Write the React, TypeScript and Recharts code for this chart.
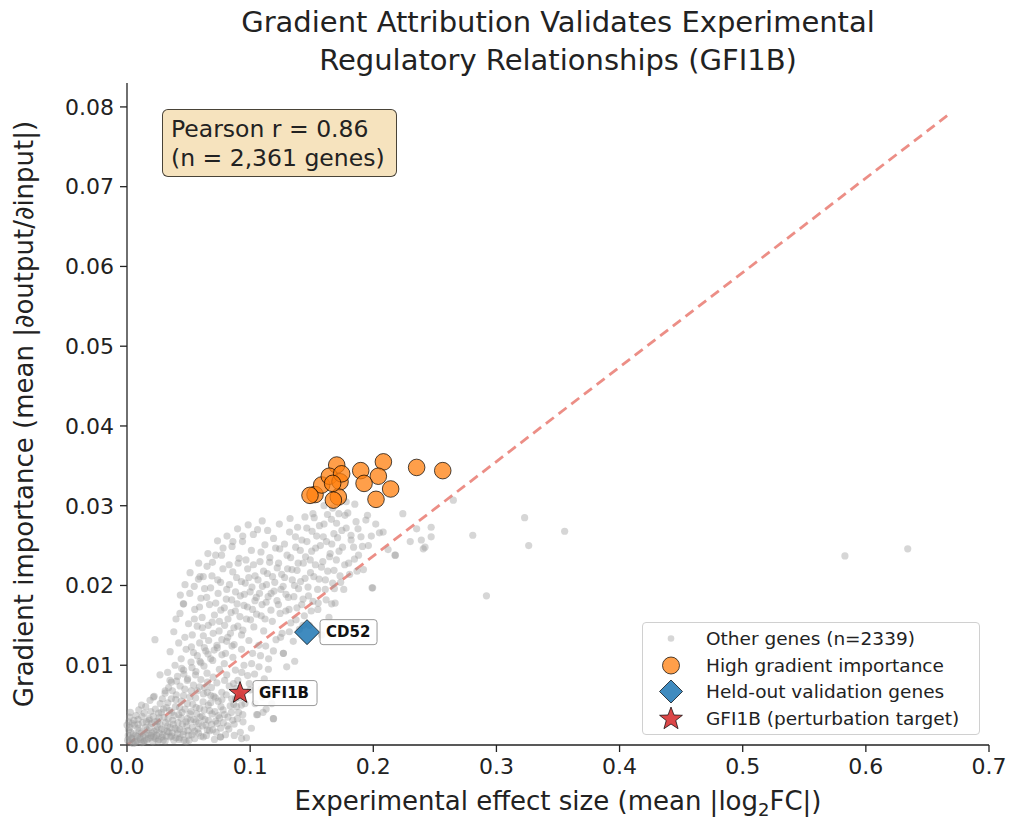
import { ScatterChart, Scatter, XAxis, YAxis, ReferenceLine } from "recharts";

const xTicks = [0, 0.1, 0.2, 0.3, 0.4, 0.5, 0.6, 0.7];
const yTicks = [0, 0.01, 0.02, 0.03, 0.04, 0.05, 0.06, 0.07, 0.08];

const otherGenes: [number, number][] = [
    // dense blob near the origin
    [0.002, 0.0003], [0.004, 0.0008], [0.005, 0.0002], [0.007, 0.0012], [0.008, 0.0005],
    [0.010, 0.0018], [0.011, 0.0007], [0.012, 0.0003], [0.013, 0.0011], [0.015, 0.0022],
    [0.016, 0.0006], [0.017, 0.0014], [0.019, 0.0009], [0.020, 0.0027], [0.021, 0.0004],
    [0.022, 0.0017], [0.024, 0.0012], [0.025, 0.0030], [0.026, 0.0007], [0.028, 0.0020],
    [0.029, 0.0013], [0.030, 0.0035], [0.031, 0.0005], [0.033, 0.0024], [0.034, 0.0016],
    [0.035, 0.0010], [0.037, 0.0031], [0.038, 0.0006], [0.039, 0.0021], [0.041, 0.0014],
    [0.042, 0.0038], [0.043, 0.0009], [0.045, 0.0026], [0.046, 0.0017], [0.048, 0.0004],
    [0.049, 0.0033], [0.050, 0.0012], [0.052, 0.0042], [0.053, 0.0022], [0.055, 0.0008],
    [0.056, 0.0029], [0.058, 0.0015], [0.059, 0.0046], [0.061, 0.0036], [0.062, 0.0010],
    [0.064, 0.0025], [0.066, 0.0050], [0.067, 0.0018], [0.069, 0.0039], [0.071, 0.0007],
    [0.072, 0.0030], [0.074, 0.0055], [0.076, 0.0021], [0.078, 0.0044], [0.080, 0.0013],
    [0.082, 0.0035], [0.085, 0.0058], [0.087, 0.0026], [0.089, 0.0048], [0.092, 0.0016],
    [0.094, 0.0038], [0.097, 0.0009], [0.003, 0.0016], [0.006, 0.0025], [0.009, 0.0032],
    [0.014, 0.0040], [0.018, 0.0033], [0.023, 0.0045], [0.027, 0.0052], [0.032, 0.0047],
    [0.036, 0.0058], [0.040, 0.0063], [0.044, 0.0055], [0.047, 0.0070], [0.051, 0.0060],
    [0.054, 0.0075], [0.057, 0.0068], [0.060, 0.0082], [0.063, 0.0072], [0.065, 0.0090],
    [0.068, 0.0062], [0.070, 0.0085], [0.073, 0.0078], [0.075, 0.0095], [0.077, 0.0066],
    [0.079, 0.0102], [0.081, 0.0088], [0.083, 0.0074], [0.086, 0.0110], [0.088, 0.0094],
    [0.090, 0.0081], [0.093, 0.0120], [0.095, 0.0100], [0.098, 0.0087], [0.100, 0.0069],
    [0.102, 0.0115], [0.104, 0.0052], [0.106, 0.0038], [0.110, 0.0060], [0.113, 0.0045],
    [0.116, 0.0072], [0.119, 0.0033], [0.101, 0.0021], [0.076, 0.0010], [0.000, 0.0025],
    [0.001, 0.0012], [0.002, 0.0035], [0.0005, 0.0006], [0.0931, 0.0008], [0.0758, 0.0010],
    [0.1188, 0.0033], [0.1053, 0.0038],
    [0.0035, 0.0009], [0.0062, 0.0004], [0.0088, 0.0021], [0.0104, 0.0009], [0.0127, 0.0028],
    [0.0141, 0.0005], [0.0163, 0.0019], [0.0178, 0.0031], [0.0196, 0.0012], [0.0213, 0.0036],
    [0.0232, 0.0008], [0.0247, 0.0023], [0.0262, 0.0015], [0.0279, 0.0041], [0.0294, 0.0006],
    [0.0313, 0.0028], [0.0327, 0.0017], [0.0345, 0.0043], [0.0362, 0.0011], [0.0376, 0.0026],
    [0.0394, 0.0048], [0.0407, 0.0019], [0.0423, 0.0007], [0.0438, 0.0034], [0.0455, 0.0013],
    [0.0471, 0.0045], [0.0486, 0.0024], [0.0504, 0.0006], [0.0517, 0.0031], [0.0534, 0.0051],
    [0.0549, 0.0017], [0.0566, 0.0039], [0.0583, 0.0027], [0.0601, 0.0011], [0.0618, 0.0054],
    [0.0633, 0.0032], [0.0652, 0.0019], [0.0671, 0.0043], [0.0688, 0.0026], [0.0705, 0.0061],
    [0.0724, 0.0016], [0.0741, 0.0037], [0.0763, 0.0048], [0.0782, 0.0028], [0.0806, 0.0063],
    [0.0827, 0.0020], [0.0848, 0.0041], [0.0871, 0.0012], [0.0896, 0.0033], [0.0915, 0.0059],
    [0.0012, 0.0019], [0.0041, 0.0027], [0.0073, 0.0037], [0.0096, 0.0044], [0.0118, 0.0050],
    [0.0152, 0.0048], [0.0187, 0.0056], [0.0221, 0.0061], [0.0256, 0.0040], [0.0287, 0.0058],
    [0.0309, 0.0065], [0.0338, 0.0072], [0.0369, 0.0068], [0.0402, 0.0080], [0.0431, 0.0074],
    [0.0462, 0.0089], [0.0493, 0.0083], [0.0528, 0.0097], [0.0556, 0.0088], [0.0592, 0.0105],
    [0.0625, 0.0099], [0.0658, 0.0114], [0.0696, 0.0106], [0.0733, 0.0122], [0.0771, 0.0113],
    [0.0809, 0.0130], [0.0853, 0.0124], [0.0884, 0.0071], [0.0921, 0.0064], [0.0958, 0.0052],
    [0.0993, 0.0077], [0.1036, 0.0089], [0.1072, 0.0098], [0.1115, 0.0083], [0.1148, 0.0095],
    [0.1089, 0.0070], [0.0942, 0.0029], [0.0867, 0.0051], [0.0013, 0.0029], [0.0027, 0.0041],
    [0.0018, 0.0007], [0.0052, 0.0014], [0.0069, 0.0003], [0.0083, 0.0011], [0.0115, 0.0015],
    [0.0133, 0.0004], [0.0148, 0.0013], [0.0171, 0.0008], [0.0185, 0.0022], [0.0204, 0.0015],
    [0.0218, 0.0010], [0.0238, 0.0019], [0.0253, 0.0005], [0.0268, 0.0026], [0.0284, 0.0010],
    [0.0301, 0.0019], [0.0318, 0.0011], [0.0334, 0.0033], [0.0351, 0.0022], [0.0367, 0.0015],
    [0.0383, 0.0037], [0.0398, 0.0009], [0.0414, 0.0028], [0.0429, 0.0020], [0.0447, 0.0041],
    [0.0463, 0.0006], [0.0479, 0.0029], [0.0495, 0.0018], [0.0511, 0.0039], [0.0527, 0.0013],
    [0.0543, 0.0032], [0.0561, 0.0047], [0.0577, 0.0020], [0.0594, 0.0035], [0.0611, 0.0024],
    [0.0627, 0.0044], [0.0645, 0.0012], [0.0662, 0.0031], [0.0679, 0.0053], [0.0697, 0.0019],
    [0.0714, 0.0042], [0.0732, 0.0027], [0.0752, 0.0034], [0.0771, 0.0057], [0.0792, 0.0038],
    [0.0815, 0.0024], [0.0838, 0.0049], [0.0859, 0.0031], [0.0882, 0.0058], [0.0906, 0.0041],
    [0.0929, 0.0050], [0.0024, 0.0022], [0.0056, 0.0031], [0.0091, 0.0026], [0.0122, 0.0036],
    [0.0158, 0.0029], [0.0193, 0.0042], [0.0227, 0.0029], [0.0261, 0.0034], [0.0297, 0.0045],
    [0.0331, 0.0053], [0.0364, 0.0041], [0.0396, 0.0057], [0.0427, 0.0047], [0.0459, 0.0062],
    [0.0491, 0.0052], [0.0522, 0.0068], [0.0557, 0.0059], [0.0589, 0.0073], [0.0621, 0.0064],
    [0.0654, 0.0079], [0.0686, 0.0072],
    // main cloud
    [0.031, 0.0068], [0.033, 0.0091], [0.035, 0.0117], [0.036, 0.0079], [0.038, 0.0142],
    [0.039, 0.0100], [0.041, 0.0086], [0.042, 0.0128], [0.043, 0.0165], [0.044, 0.0108],
    [0.046, 0.0094], [0.046, 0.0177], [0.047, 0.0135], [0.048, 0.0120], [0.049, 0.0081],
    [0.050, 0.0152], [0.051, 0.0190], [0.052, 0.0104], [0.053, 0.0138], [0.054, 0.0116],
    [0.055, 0.0170], [0.056, 0.0092], [0.057, 0.0149], [0.058, 0.0208], [0.059, 0.0128],
    [0.060, 0.0184], [0.060, 0.0103], [0.061, 0.0160], [0.062, 0.0137], [0.063, 0.0196],
    [0.064, 0.0118], [0.065, 0.0224], [0.066, 0.0150], [0.067, 0.0176], [0.068, 0.0108],
    [0.069, 0.0212], [0.070, 0.0140], [0.071, 0.0163], [0.072, 0.0238], [0.073, 0.0125],
    [0.074, 0.0190], [0.075, 0.0155], [0.076, 0.0204], [0.077, 0.0132], [0.078, 0.0247],
    [0.079, 0.0172], [0.080, 0.0115], [0.081, 0.0195], [0.082, 0.0158], [0.083, 0.0226],
    [0.084, 0.0140], [0.085, 0.0182], [0.086, 0.0255], [0.087, 0.0126], [0.088, 0.0168],
    [0.089, 0.0210], [0.090, 0.0149], [0.091, 0.0234], [0.092, 0.0187], [0.093, 0.0138],
    [0.094, 0.0262], [0.095, 0.0175], [0.096, 0.0203], [0.097, 0.0158], [0.098, 0.0221],
    [0.099, 0.0131], [0.100, 0.0192], [0.101, 0.0244], [0.102, 0.0170], [0.103, 0.0148],
    [0.104, 0.0212], [0.105, 0.0185], [0.106, 0.0270], [0.107, 0.0125], [0.108, 0.0230],
    [0.109, 0.0162], [0.110, 0.0199], [0.111, 0.0143], [0.112, 0.0251], [0.113, 0.0179],
    [0.114, 0.0215], [0.115, 0.0108], [0.116, 0.0235], [0.117, 0.0190], [0.118, 0.0155],
    [0.119, 0.0259], [0.120, 0.0204], [0.121, 0.0132], [0.122, 0.0222], [0.123, 0.0176],
    [0.124, 0.0246], [0.125, 0.0195], [0.126, 0.0140], [0.127, 0.0115], [0.128, 0.0210],
    [0.129, 0.0168], [0.130, 0.0238], [0.131, 0.0185], [0.132, 0.0267], [0.133, 0.0153],
    [0.134, 0.0220], [0.135, 0.0130], [0.136, 0.0200], [0.137, 0.0248], [0.138, 0.0172],
    [0.139, 0.0228], [0.140, 0.0145], [0.141, 0.0205], [0.142, 0.0257], [0.143, 0.0183],
    [0.144, 0.0162], [0.145, 0.0236], [0.146, 0.0272], [0.147, 0.0198], [0.148, 0.0150],
    [0.149, 0.0216], [0.150, 0.0243], [0.151, 0.0180], [0.152, 0.0285], [0.153, 0.0226],
    [0.154, 0.0262], [0.155, 0.0170], [0.156, 0.0208], [0.157, 0.0250], [0.158, 0.0138],
    [0.159, 0.0230], [0.160, 0.0277], [0.161, 0.0195], [0.162, 0.0255], [0.163, 0.0218],
    [0.164, 0.0160], [0.165, 0.0240], [0.166, 0.0283], [0.167, 0.0203], [0.168, 0.0265],
    [0.169, 0.0178], [0.170, 0.0232], [0.171, 0.0260], [0.172, 0.0290], [0.173, 0.0212],
    [0.175, 0.0248], [0.176, 0.0195], [0.178, 0.0272], [0.180, 0.0228], [0.182, 0.0257],
    [0.184, 0.0248], [0.186, 0.0280], [0.188, 0.0238], [0.190, 0.0261], [0.192, 0.0220],
    [0.194, 0.0282], [0.196, 0.0250], [0.199, 0.0197], [0.202, 0.0277], [0.205, 0.0266],
    [0.208, 0.0267], [0.212, 0.0245], [0.218, 0.0238], [0.224, 0.0290], [0.230, 0.0255],
    [0.239, 0.0257], [0.242, 0.0248], [0.247, 0.0273], [0.247, 0.0261], [0.265, 0.0307],
    [0.178, 0.0305], [0.160, 0.0300], [0.167, 0.0297], [0.185, 0.0302], [0.151, 0.0290],
    [0.177, 0.0288], [0.2352, 0.0271], [0.2406, 0.0246], [0.1662, 0.0177], [0.1297, 0.0098],
    [0.127, 0.0115], [0.0227, 0.0132], [0.0268, 0.0088], [0.0349, 0.0081], [0.0214, 0.0060],
    [0.0444, 0.0096], [0.0593, 0.0211], [0.0457, 0.0177],
    [0.0523, 0.0123], [0.0547, 0.0158], [0.0571, 0.0112], [0.0589, 0.0173], [0.0612, 0.0147],
    [0.0628, 0.0122], [0.0647, 0.0185], [0.0663, 0.0131], [0.0679, 0.0197], [0.0692, 0.0154],
    [0.0708, 0.0119], [0.0721, 0.0178], [0.0737, 0.0207], [0.0748, 0.0143], [0.0762, 0.0169],
    [0.0779, 0.0221], [0.0793, 0.0150], [0.0806, 0.0183], [0.0818, 0.0135], [0.0832, 0.0201],
    [0.0845, 0.0166], [0.0859, 0.0217], [0.0868, 0.0147], [0.0881, 0.0192], [0.0894, 0.0177],
    [0.0903, 0.0228], [0.0917, 0.0161], [0.0929, 0.0205], [0.0941, 0.0144], [0.0953, 0.0189],
    [0.0966, 0.0232], [0.0978, 0.0173], [0.0989, 0.0210], [0.1003, 0.0157], [0.1015, 0.0198],
    [0.1027, 0.0226], [0.1039, 0.0181], [0.1052, 0.0164], [0.1064, 0.0207], [0.1076, 0.0190],
    [0.1088, 0.0242], [0.1097, 0.0176], [0.1109, 0.0218], [0.1121, 0.0158], [0.1133, 0.0201],
    [0.1146, 0.0186], [0.1158, 0.0229], [0.1169, 0.0169], [0.1182, 0.0211], [0.1194, 0.0193],
    [0.1207, 0.0247], [0.1218, 0.0181], [0.1231, 0.0228], [0.1243, 0.0165], [0.1256, 0.0214],
    [0.1268, 0.0199], [0.1279, 0.0252], [0.1291, 0.0189], [0.1304, 0.0221], [0.1316, 0.0170],
    [0.1329, 0.0235], [0.1342, 0.0207], [0.1355, 0.0186], [0.1368, 0.0261], [0.1381, 0.0219],
    [0.1393, 0.0196], [0.1407, 0.0244], [0.1419, 0.0176], [0.1432, 0.0228], [0.1446, 0.0209],
    [0.1461, 0.0255], [0.1474, 0.0187], [0.1488, 0.0232], [0.1503, 0.0268], [0.1517, 0.0211],
    [0.1532, 0.0247], [0.1548, 0.0195], [0.1563, 0.0275], [0.1579, 0.0223], [0.1594, 0.0261],
    [0.1611, 0.0207], [0.1628, 0.0289], [0.1645, 0.0236], [0.1663, 0.0252], [0.1681, 0.0219],
    [0.1702, 0.0278], [0.1722, 0.0243], [0.1745, 0.0269], [0.1768, 0.0226], [0.1793, 0.0291],
    [0.1819, 0.0263], [0.1847, 0.0233], [0.1876, 0.0271], [0.1912, 0.0249], [0.1953, 0.0288],
    [0.1984, 0.0262],
    // upper-left edge of the cloud
    [0.0398, 0.0158], [0.0433, 0.0188], [0.0471, 0.0201], [0.0512, 0.0216], [0.0546, 0.0199],
    [0.0582, 0.0228], [0.0619, 0.0211], [0.0657, 0.0240], [0.0694, 0.0229], [0.0735, 0.0256],
    [0.0768, 0.0238], [0.0812, 0.0262], [0.0853, 0.0249], [0.0898, 0.0271], [0.0938, 0.0255],
    [0.0984, 0.0276], [0.1026, 0.0264], [0.1098, 0.0281], [0.1142, 0.0269], [0.1237, 0.0277],
    [0.1324, 0.0284], [0.1385, 0.0273], [0.1445, 0.0286],
    // lower-right edge near the dashed line
    [0.0652, 0.0066], [0.0718, 0.0059], [0.0793, 0.0081], [0.0865, 0.0077], [0.0932, 0.0091],
    [0.1012, 0.0102], [0.1084, 0.0112], [0.1126, 0.0124], [0.1189, 0.0118], [0.1247, 0.0135],
    [0.1318, 0.0142], [0.1373, 0.0157], [0.1429, 0.0150], [0.1496, 0.0168], [0.1553, 0.0178],
    [0.1617, 0.0182], [0.1684, 0.0196], [0.1735, 0.0204], [0.1808, 0.0214], [0.1868, 0.0218],
    [0.1105, 0.0041], [0.1241, 0.0066], [0.1362, 0.0105], [0.1176, 0.0052],
    // sparse outliers
    [0.2808, 0.0263], [0.3229, 0.0285], [0.3262, 0.0250], [0.3554, 0.0268], [0.2919, 0.0187],
    [0.1995, 0.0197], [0.2176, 0.0238], [0.583, 0.0237], [0.634, 0.0246],
];

const highGradient: [number, number][] = [
    [0.1703, 0.0351], [0.2082, 0.0355], [0.2352, 0.0348], [0.2564, 0.0344], [0.1898, 0.0344],
    [0.2041, 0.0337], [0.1925, 0.0328], [0.2141, 0.0321], [0.2022, 0.0308], [0.1527, 0.0314],
    [0.1581, 0.0326], [0.1643, 0.0337], [0.1730, 0.0330], [0.1716, 0.0311], [0.1676, 0.0307],
    [0.1743, 0.0340], [0.1670, 0.0328], [0.1486, 0.0313],
];

const heldOut = [{ x: 0.1462, y: 0.01415, name: "CD52" }];
const target = [{ x: 0.0918, y: 0.00651, name: "GFI1B" }];

// dashed reference line endpoints
const fitLine = [{ x: 0, y: 0 }, { x: 0.666, y: 0.0789 }];

const toPoints = (arr: [number, number][]) => arr.map(([x, y]) => ({ x, y }));

function starPath(cx: number, cy: number, R: number, r: number) {
    const pts: string[] = [];
    for (let i = 0; i < 10; i++) {
        const a = -Math.PI / 2 + (i * Math.PI) / 5;
        const rad = i % 2 === 0 ? R : r;
        pts.push(`${cx + rad * Math.cos(a)},${cy + rad * Math.sin(a)}`);
    }
    return `M${pts.join("L")}Z`;
}

function diamondPath(cx: number, cy: number, h: number) {
    return `M${cx},${cy - h}L${cx + h},${cy}L${cx},${cy + h}L${cx - h},${cy}Z`;
}

function Tag({ x, y, text, w }: { x: number; y: number; text: string; w: number }) {
    return (
        <g>
            <rect x={x} y={y - 12.5} width={w} height={25} rx={3} fill="#fff" fillOpacity={0.85} stroke="#999" strokeWidth={1} />
            <text x={x + 6} y={y} dominantBaseline="central" fontSize={15} fontWeight="bold" fill="#111">
                {text}
            </text>
        </g>
    );
}

const GrayDot = (p: any) => <circle cx={p.cx} cy={p.cy} r={3.6} fill="#999" fillOpacity={0.4} />;
const OrangeDot = (p: any) => (
    <circle cx={p.cx} cy={p.cy} r={8.3} fill="#ff7f0e" fillOpacity={0.75} stroke="#000" strokeOpacity={0.7} strokeWidth={1} />
);
const DiamondMark = (p: any) => (
    <g>
        <path d={diamondPath(p.cx, p.cy, 12.5)} fill="#1f77b4" fillOpacity={0.85} stroke="#000" strokeOpacity={0.7} strokeWidth={1} />
        <Tag x={p.cx + 13} y={p.cy} text={p.payload.name} w={57} />
    </g>
);
const StarMark = (p: any) => (
    <g>
        <path d={starPath(p.cx, p.cy, 11.5, 4.8)} fill="#d62728" fillOpacity={0.85} stroke="#000" strokeOpacity={0.7} strokeWidth={1} />
        <Tag x={p.cx + 13} y={p.cy} text={p.payload.name} w={64} />
    </g>
);

const XLabel = ({ viewBox }: any) => (
    <text x={viewBox.x + viewBox.width / 2} y={810} textAnchor="middle" fontSize={26} fill="#222">
        <tspan>Experimental effect size (mean |log</tspan>
        <tspan fontSize={18} dy={6}>2</tspan>
        <tspan dy={-6}>FC|)</tspan>
    </text>
);

const YLabel = ({ viewBox }: any) => {
    const cy = viewBox.y + viewBox.height / 2;
    return (
        <text x={24} y={cy} transform={`rotate(-90 24 ${cy})`} textAnchor="middle" dominantBaseline="central" fontSize={26} fill="#222">
            Gradient importance (mean |∂output/∂input|)
        </text>
    );
};

const legendRows = [
    { label: "Other genes (n=2339)", kind: "gray" },
    { label: "High gradient importance", kind: "orange" },
    { label: "Held-out validation genes", kind: "diamond" },
    { label: "GFI1B (perturbation target)", kind: "star" },
];

function LegendMarker({ kind }: { kind: string }) {
    return (
        <svg width={30} height={27} style={{ display: "block" }}>
            {kind === "gray" && <circle cx={15} cy={13.5} r={3.3} fill="#999" fillOpacity={0.4} />}
            {kind === "orange" && (
                <circle cx={15} cy={13.5} r={8.5} fill="#ff7f0e" fillOpacity={0.75} stroke="#000" strokeOpacity={0.7} />
            )}
            {kind === "diamond" && (
                <path d={diamondPath(15, 13.5, 11.5)} fill="#1f77b4" fillOpacity={0.85} stroke="#000" strokeOpacity={0.7} />
            )}
            {kind === "star" && (
                <path d={starPath(15, 14, 12, 5)} fill="#d62728" fillOpacity={0.85} stroke="#000" strokeOpacity={0.7} />
            )}
        </svg>
    );
}

export default function App() {
    return (
        <div
            style={{
                position: "absolute",
                left: 0,
                top: 0,
                width: 1010,
                height: 830,
                background: "#fff",
                fontFamily: "'DejaVu Sans', sans-serif",
                color: "#222",
            }}
        >
            <div
                style={{
                    position: "absolute",
                    left: 0,
                    top: 3,
                    width: 1116,
                    textAlign: "center",
                    fontSize: 29,
                    lineHeight: "38px",
                }}
            >
                Gradient Attribution Validates Experimental
                <br />
                Regulatory Relationships (GFI1B)
            </div>
            <ScatterChart width={1010} height={830} margin={{ top: 83, right: 21, bottom: 25, left: 47 }}>
                <XAxis
                    type="number"
                    dataKey="x"
                    domain={[0, 0.7]}
                    ticks={xTicks}
                    tickFormatter={(v: number) => v.toFixed(1)}
                    height={60}
                    tick={{ fill: "#222", fontSize: 22 }}
                    tickSize={7}
                    tickMargin={6}
                    axisLine={{ stroke: "#222", strokeWidth: 1.3 }}
                    tickLine={{ stroke: "#222", strokeWidth: 1.3 }}
                    label={<XLabel />}
                />
                <YAxis
                    type="number"
                    dataKey="y"
                    domain={[0, 0.083]}
                    ticks={yTicks}
                    tickFormatter={(v: number) => v.toFixed(2)}
                    width={80}
                    tick={{ fill: "#222", fontSize: 22 }}
                    tickSize={7}
                    tickMargin={6}
                    axisLine={{ stroke: "#222", strokeWidth: 1.3 }}
                    tickLine={{ stroke: "#222", strokeWidth: 1.3 }}
                    label={<YLabel />}
                />
                <Scatter data={toPoints(otherGenes)} shape={GrayDot} isAnimationActive={false} />
                <ReferenceLine
                    segment={fitLine}
                    stroke="#e0483c"
                    strokeOpacity={0.62}
                    strokeWidth={2.8}
                    strokeDasharray="10 6"
                />
                <Scatter data={toPoints(highGradient)} shape={OrangeDot} isAnimationActive={false} />
                <Scatter data={heldOut} shape={DiamondMark} isAnimationActive={false} />
                <Scatter data={target} shape={StarMark} isAnimationActive={false} />
            </ScatterChart>
            <div
                style={{
                    position: "absolute",
                    left: 162,
                    top: 109,
                    width: 235,
                    height: 68,
                    boxSizing: "border-box",
                    border: "1.5px solid rgba(0,0,0,0.7)",
                    borderRadius: 6,
                    background: "rgba(245,222,179,0.85)",
                    fontSize: 23.5,
                    lineHeight: "29px",
                    padding: "5px 0 0 8px",
                    whiteSpace: "nowrap",
                }}
            >
                Pearson r = 0.86
                <br />
                (n = 2,361 genes)
            </div>
            <div
                style={{
                    position: "absolute",
                    left: 642,
                    top: 622,
                    width: 338,
                    height: 113,
                    boxSizing: "border-box",
                    border: "1px solid #d0d0d0",
                    borderRadius: 4,
                    background: "rgba(255,255,255,0.8)",
                    padding: "2px 0 0 13px",
                    fontSize: 18.5,
                }}
            >
                {legendRows.map((r) => (
                    <div key={r.label} style={{ display: "flex", alignItems: "center", height: 26.7 }}>
                        <LegendMarker kind={r.kind} />
                        <span style={{ marginLeft: 20, whiteSpace: "nowrap" }}>{r.label}</span>
                    </div>
                ))}
            </div>
        </div>
    );
}
